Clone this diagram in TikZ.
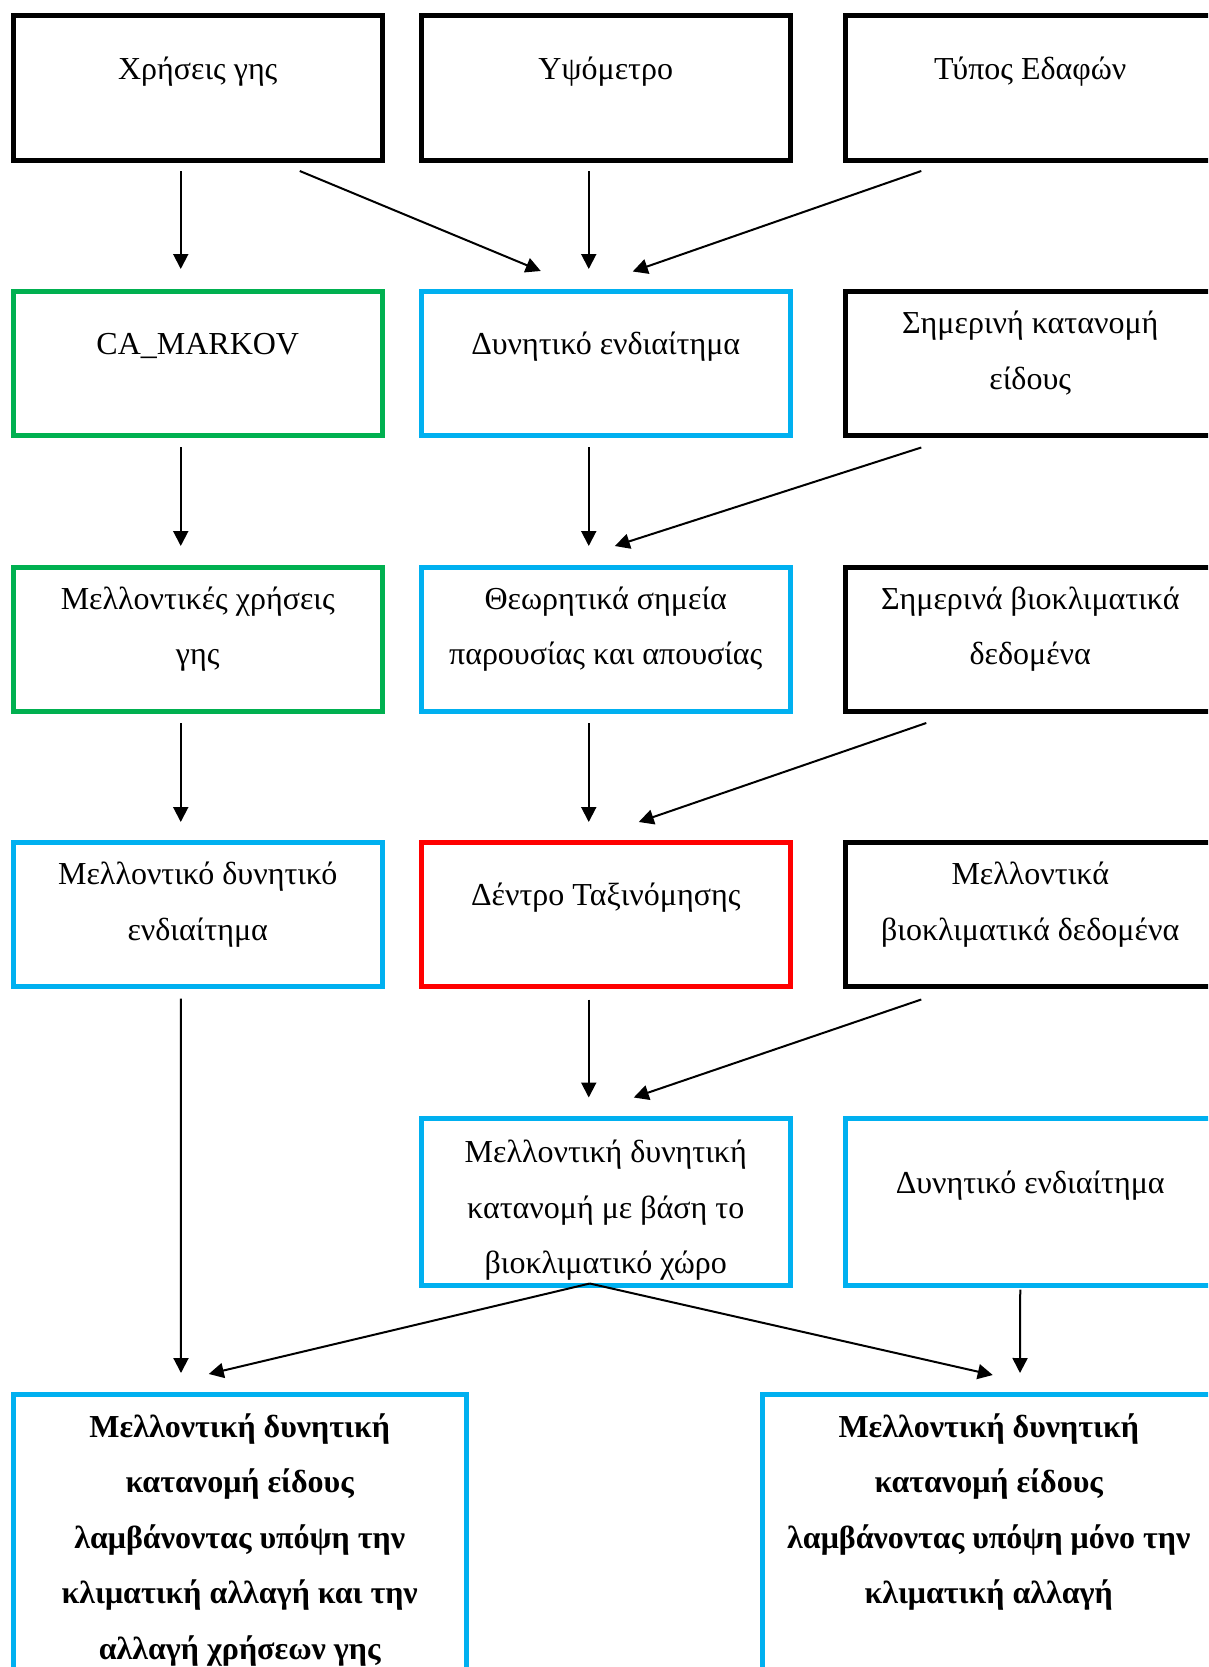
\documentclass[tikz,border=0pt]{standalone}
\usepackage{fontspec}
\setmainfont{Liberation Serif}
\usetikzlibrary{arrows.meta,positioning,calc}
\definecolor{prasino}{HTML}{00B050}
\definecolor{galazio}{HTML}{00B0F0}
\definecolor{kokkino}{HTML}{FF0000}
% width, height, top space, text
\newcommand{\kei}[4]{\parbox[c][#2][t]{#1}{\centering\fontsize{32}{55.5}\selectfont\vspace*{#3}\strut #4}}
\tikzset{
  kouti/.style={draw,line width=5pt,inner sep=0pt,outer sep=0pt,minimum width=369.5pt,minimum height=144pt},
  velos/.style={-{Triangle[length=15pt,width=15pt]},line width=2pt},
}

\begin{document}
\begin{tikzpicture}[x=1pt,y=-1pt]
  \useasboundingbox (0,0) rectangle (1208,1667);
  \clip (0,0) rectangle (1208,1667);
  % grammi 1
  \node[kouti,anchor=north west] (xriseis) at (13,16) {\kei{369.5pt}{144pt}{24.5pt}{Χρήσεις γης}};
  \node[kouti,right=38.5pt of xriseis] (ypsometro) {\kei{369.5pt}{144pt}{24.5pt}{Υψόμετρο}};
  \node[kouti,right=55pt of ypsometro] (edafos) {\kei{369.5pt}{144pt}{24.5pt}{Τύπος Εδαφών}};
  % grammi 2
  \node[kouti,draw=prasino,below=131.5pt of xriseis] (camarkov) {\kei{369.5pt}{144pt}{24.5pt}{CA\_MARKOV}};
  \node[kouti,draw=galazio,below=131.5pt of ypsometro] (dynen) {\kei{369.5pt}{144pt}{24.5pt}{Δυνητικό ενδιαίτημα}};
  \node[kouti,below=131.5pt of edafos] (simkat) {\kei{369.5pt}{144pt}{3.5pt}{Σημερινή κατανομή\\είδους}};
  % grammi 3
  \node[kouti,draw=prasino,below=131.5pt of camarkov] (mellxr) {\kei{369.5pt}{144pt}{3.5pt}{Μελλοντικές χρήσεις\\γης}};
  \node[kouti,draw=galazio,below=131.5pt of dynen] (theor) {\kei{369.5pt}{144pt}{3.5pt}{Θεωρητικά σημεία\\παρουσίας και απουσίας}};
  \node[kouti,below=131.5pt of simkat] (simbio) {\kei{369.5pt}{144pt}{3.5pt}{Σημερινά βιοκλιματικά\\δεδομένα}};
  % grammi 4
  \node[kouti,draw=galazio,below=131.5pt of mellxr] (mellen) {\kei{369.5pt}{144pt}{3.5pt}{Μελλοντικό δυνητικό\\ενδιαίτημα}};
  \node[kouti,draw=kokkino,below=131.5pt of theor] (dentro) {\kei{369.5pt}{144pt}{24.5pt}{Δέντρο Ταξινόμησης}};
  \node[kouti,below=131.5pt of simbio] (mellbio) {\kei{369.5pt}{144pt}{3.5pt}{Μελλοντικά\\βιοκλιματικά δεδομένα}};
  % grammi 5
  \node[kouti,draw=galazio,minimum height=167pt,below=132pt of dentro] (mellkat) {\kei{369.5pt}{167pt}{5.5pt}{Μελλοντική δυνητική\\κατανομή με βάση το\\βιοκλιματικό χώρο}};
  \node[kouti,draw=galazio,minimum height=167pt,right=55pt of mellkat] (dynen2) {\kei{369.5pt}{167pt}{36pt}{Δυνητικό ενδιαίτημα}};
  % apotelesmata
  \node[kouti,draw=galazio,minimum width=453.5pt,minimum height=300pt,anchor=north west] (telA) at (13,1394.5)
    {\kei{453.5pt}{300pt}{4pt}{\bfseries Μελλοντική δυνητική\\κατανομή είδους\\λαμβάνοντας υπόψη την\\κλιματική αλλαγή και την\\αλλαγή χρήσεων γης}};
  \node[kouti,draw=galazio,minimum width=453.5pt,minimum height=300pt,anchor=north west] (telB) at (762,1394.5)
    {\kei{453.5pt}{300pt}{4pt}{\bfseries Μελλοντική δυνητική\\κατανομή είδους\\λαμβάνοντας υπόψη μόνο την\\κλιματική αλλαγή}};
  % velh
  \draw[velos] ($(xriseis.south)+(-17,11)$) -- ($(camarkov.north)+(-17,-22.5)$);
  \draw[velos] ($(xriseis.south)+(102,11)$) -- ($(dynen.north)+(-65,-20.5)$);
  \draw[velos] ($(ypsometro.south)+(-17,11)$) -- ($(dynen.north)+(-17,-22.5)$);
  \draw[velos] ($(edafos.south)+(-109,11)$) -- ($(dynen.north)+(27,-20)$);
  \draw[velos] ($(camarkov.south)+(-17,11.5)$) -- ($(mellxr.north)+(-17,-21)$);
  \draw[velos] ($(dynen.south)+(-17,11.5)$) -- ($(theor.north)+(-17,-21)$);
  \draw[velos] ($(simkat.south)+(-109,12)$) -- ($(theor.north)+(9,-21)$);
  \draw[velos] ($(mellxr.south)+(-17,12)$) -- ($(mellen.north)+(-17,-20.5)$);
  \draw[velos] ($(theor.south)+(-17,12)$) -- ($(dentro.north)+(-17,-20.5)$);
  \draw[velos] ($(simbio.south)+(-104,12)$) -- ($(dentro.north)+(33,-20.5)$);
  \draw[velos] ($(mellen.south)+(-17,12)$) -- ($(telA.north)+(-58.75,-21.5)$);
  \draw[velos] ($(dentro.south)+(-17,13)$) -- ($(mellkat.north)+(-17,-21)$);
  \draw[velos] ($(mellbio.south)+(-109,13)$) -- ($(mellkat.north)+(28,-21)$);
  \draw[velos] ($(mellkat.south)+(-16,-2)$) -- ($(telA.north)+(-31,-20.5)$);
  \draw[velos] ($(mellkat.south)+(-16,-2)$) -- ($(telB.north)+(4,-19.5)$);
  \draw[velos] ($(dynen2.south)+(-10,4)$) -- ($(telB.north)+(31.25,-21.5)$);
\end{tikzpicture}
\end{document}
